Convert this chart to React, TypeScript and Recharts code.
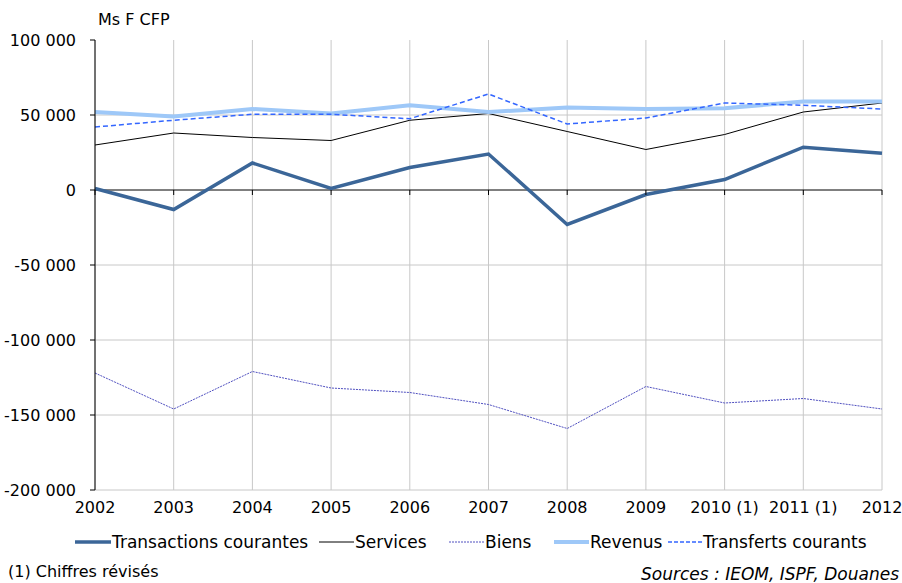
import { LineChart, Line, XAxis, YAxis, CartesianGrid, ReferenceLine, ReferenceDot } from 'recharts';

const years = ['2002', '2003', '2004', '2005', '2006', '2007', '2008', '2009', '2010 (1)', '2011 (1)', '2012'];
const transactions = [1000, -13000, 18000, 1000, 15000, 24000, -23000, -3000, 7000, 28500, 24500];
const services = [30000, 38000, 35000, 33000, 46500, 51000, 39000, 27000, 37000, 52000, 58000];
const biens = [-122000, -146000, -121000, -132000, -135000, -143000, -159000, -131000, -142000, -139000, -146000];
const revenus = [52000, 49000, 54000, 51000, 56500, 52000, 55000, 54000, 54500, 59000, 59000];
const transferts = [42000, 46500, 50500, 50500, 47500, 64000, 44000, 48000, 58000, 56500, 54000];
const yTicks = [-200000, -150000, -100000, -50000, 0, 50000, 100000];

const data = years.map((y, i) => ({
  year: y,
  transactions: transactions[i],
  services: services[i],
  biens: biens[i],
  revenus: revenus[i],
  transferts: transferts[i],
}));

const FONT = '"DejaVu Sans", sans-serif';

const fmt = (v: number) => {
  const s = Math.abs(v).toString().replace(/\B(?=(\d{3})+(?!\d))/g, ' ');
  return v < 0 ? '-' + s : s;
};

// x = where the label text starts in the reference
const legendItems = [
  { label: 'Transactions courantes', color: '#3b6698', width: 3.5, dash: undefined, x: 112, sample: 36 },
  { label: 'Services', color: '#000', width: 1, dash: undefined, x: 355, sample: 35 },
  { label: 'Biens', color: '#5050c0', width: 1, dash: '2 1', x: 485, sample: 35 },
  { label: 'Revenus', color: '#9ec8f8', width: 4, dash: undefined, x: 590, sample: 35 },
  { label: 'Transferts courants', color: '#3366ff', width: 1.5, dash: '4 2', x: 703, sample: 34 },
];

const ZeroTick = (p: any) => (
  <line x1={p.cx} y1={p.cy} x2={p.cx} y2={p.cy + 5} stroke="#000" strokeWidth={1} />
);

export default function App() {
  return (
    <div style={{ position: 'absolute', left: 0, top: 0, width: 902, height: 583, background: '#fff', fontFamily: FONT, color: '#000' }}>
      <div style={{ position: 'absolute', left: 98, top: 10, fontSize: 16 }}>Ms F CFP</div>
      <LineChart width={902} height={520} data={data} margin={{ top: 40, right: 20, left: 0, bottom: 0 }}>
        <CartesianGrid stroke="#c8c8c8" horizontalValues={[-200000, -150000, -100000, -50000, 50000]} />
        <XAxis
          dataKey="year"
          axisLine={false}
          tickLine={false}
          height={30}
          interval={0}
          tick={{ fill: '#000', fontSize: 16, fontFamily: FONT }}
          tickMargin={6}
        />
        <YAxis
          domain={[-200000, 100000]}
          ticks={yTicks}
          width={95}
          tickFormatter={fmt}
          axisLine={{ stroke: '#000' }}
          tickLine={{ stroke: '#000' }}
          tickSize={5}
          tickMargin={14}
          tick={{ fill: '#000', fontSize: 16, fontFamily: FONT }}
        />
        <ReferenceLine y={0} stroke="#000" />
        {years.map((y) => (
          <ReferenceDot key={y} x={y} y={0} shape={ZeroTick} />
        ))}
        <Line dataKey="biens" stroke="#5050c0" strokeWidth={1} strokeDasharray="2 1" dot={false} isAnimationActive={false} />
        <Line dataKey="services" stroke="#000" strokeWidth={1} dot={false} isAnimationActive={false} />
        <Line dataKey="revenus" stroke="#9ec8f8" strokeWidth={4} dot={false} isAnimationActive={false} />
        <Line dataKey="transferts" stroke="#3366ff" strokeWidth={1.5} strokeDasharray="5 3" dot={false} isAnimationActive={false} />
        <Line dataKey="transactions" stroke="#3b6698" strokeWidth={3.5} dot={false} isAnimationActive={false} />
      </LineChart>
      {legendItems.map((it) => (
        <div key={it.label} style={{ position: 'absolute', left: it.x - it.sample - 1, top: 531, height: 22, display: 'flex', alignItems: 'center', fontSize: 17 }}>
          <svg width={it.sample} height={10} style={{ marginRight: 1 }}>
            <line x1={0} y1={5} x2={it.sample} y2={5} stroke={it.color} strokeWidth={it.width} strokeDasharray={it.dash} />
          </svg>
          <span>{it.label}</span>
        </div>
      ))}
      <div style={{ position: 'absolute', left: 8, top: 562, fontSize: 16 }}>(1) Chiffres révisés</div>
      <div style={{ position: 'absolute', right: 3, top: 564, fontSize: 17, fontStyle: 'italic' }}>Sources : IEOM, ISPF, Douanes</div>
    </div>
  );
}
